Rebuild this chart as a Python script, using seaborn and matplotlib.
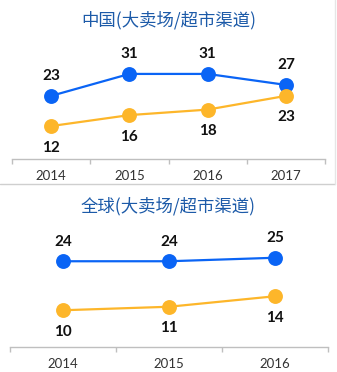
import matplotlib
matplotlib.use("Agg")
import matplotlib.pyplot as plt
import seaborn as sns
import pandas as pd
from matplotlib.lines import Line2D

sns.set_theme(style="white")
plt.rcParams['font.family'] = ['Noto Sans CJK SC', 'DejaVu Sans']

# Data
cn_years = ["2014", "2015", "2016", "2017"]
cn_blue = [23, 31, 31, 27]
cn_yellow = [12, 16, 18, 23]
gl_years = ["2014", "2015", "2016"]
gl_blue = [24, 24, 25]
gl_yellow = [10, 11, 14]
titles = ["中国(大卖场/超市渠道)", "全球(大卖场/超市渠道)"]

BLUE = "#0A64F5"
YELLOW = "#FDB62A"
TITLE_C = "#1C5AA8"

fig = plt.figure(figsize=(3.37, 3.72), dpi=100)

def make_panel(rect, years, blue, yellow, ylim, title, title_y):
    ax = fig.add_axes(rect)
    df = pd.DataFrame({
        "year": years * 2,
        "value": blue + yellow,
        "series": ["a"] * len(years) + ["b"] * len(years),
    })
    sns.pointplot(data=df, x="year", y="value", hue="series", order=years,
                  palette=[BLUE, YELLOW], markers="o", markersize=9.5,
                  linewidth=1.6, ax=ax, legend=False)
    ax.set_xlim(-0.5, len(years) - 0.5)
    ax.set_ylim(*ylim)
    for i, (b, y) in enumerate(zip(blue, yellow)):
        ax.annotate(str(b), (i, b), xytext=(0, 14), textcoords="offset points",
                    ha="center", va="center", fontsize=11, fontweight="bold",
                    color="#111111", family=["Lato", "DejaVu Sans"])
        ax.annotate(str(y), (i, y), xytext=(0, -15.5), textcoords="offset points",
                    ha="center", va="center", fontsize=11, fontweight="bold",
                    color="#111111", family=["Lato", "DejaVu Sans"])
    for s in ["top", "left", "right"]:
        ax.spines[s].set_visible(False)
    ax.spines["bottom"].set_color("#BFBFBF")
    ax.spines["bottom"].set_linewidth(1.0)
    ax.set_yticks([])
    ax.set_xlabel("")
    ax.set_ylabel("")
    ax.set_xticks(range(len(years)))
    ax.set_xticklabels(years, fontsize=9.5, color="#333333",
                       family=["Lato", "DejaVu Sans"])
    ax.tick_params(axis="x", which="major", length=0, pad=8)
    ax.set_xticks([i - 0.5 for i in range(len(years) + 1)], minor=True)
    ax.tick_params(axis="x", which="minor", length=3.5, color="#BFBFBF",
                   width=1.0, direction="out", bottom=True)
    fig.text(0.5, title_y, title, ha="center", va="center", fontsize=12.5,
             color=TITLE_C)
    return ax

make_panel([12/337, (372-159)/372, 313/337, 119/372], cn_years, cn_blue,
           cn_yellow, (0, 23 + (96-40)/2.75), titles[0], 1 - 20/372)
make_panel([10/337, 25/372, 318/337, 122/372], gl_years, gl_blue,
           gl_yellow, (-0.5, -0.5 + 122/3.5), titles[1], 1 - 206/372)

# separator and frame lines
fig.add_artist(Line2D([0, 335/337], [1 - 184/372, 1 - 184/372],
                      transform=fig.transFigure, color="#CFCFCF", lw=1.0))
fig.add_artist(Line2D([335/337, 335/337], [1 - 184/372, 1.0],
                      transform=fig.transFigure, color="#E6E6E6", lw=1.0))

fig.savefig("out.png", dpi=100)
